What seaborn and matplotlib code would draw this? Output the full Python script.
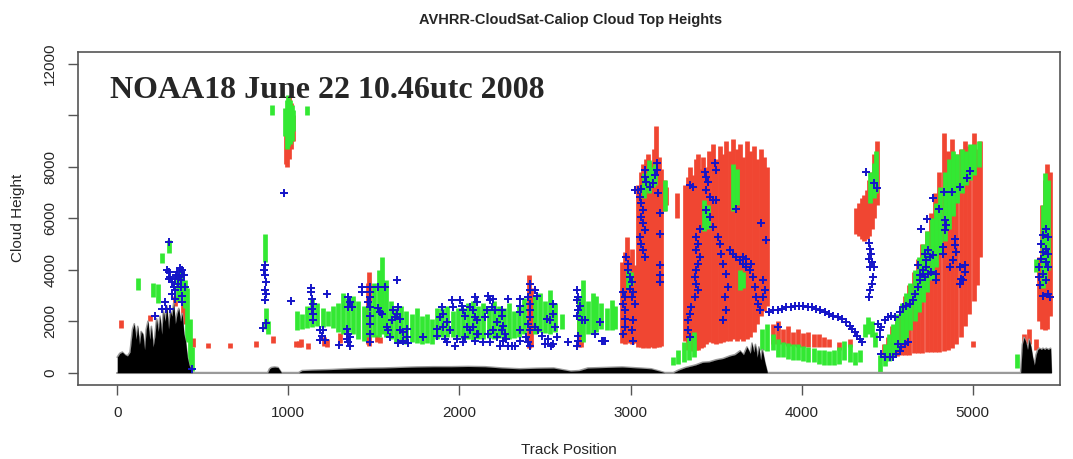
import numpy as np
import matplotlib
matplotlib.use("Agg")
import matplotlib.pyplot as plt
import seaborn as sns

# ---- data ----
# CloudSat layers (red): x, bottom, top
red_x = [20, 190, 340, 385, 395, 445, 530, 660, 810, 910,
         985, 995, 1005, 1015, 1025,
         1045, 1060, 1075, 1115, 1210, 1225, 1305, 1465, 1472, 1520, 1535,
         2405, 2420, 2700, 2712,
         2950, 2965, 2980, 2995, 3010, 3025,
         3045, 3060, 3075, 3090, 3105, 3120, 3135, 3150, 3165, 3180,
         3195, 3205, 3270,
         3320, 3335, 3350, 3365, 3380, 3395, 3410, 3425, 3440,
         3460, 3480, 3500, 3520, 3540, 3560, 3580, 3600, 3620, 3640, 3660,
         3680, 3700, 3720, 3740, 3760, 3780, 3800,
         3830, 3860, 3890, 3920, 3950, 3980, 4010, 4040, 4070, 4100, 4130,
         4160, 4220, 4280,
         4320, 4335, 4350, 4365, 4380, 4395, 4410, 4425, 4440,
         4480, 4505, 4530, 4555, 4580, 4605, 4630, 4655, 4680, 4705, 4730,
         4755, 4780, 4805, 4830, 4855, 4880, 4905, 4930, 4955, 4980, 5005,
         5025, 5045, 5000,
         5300, 5330, 5370, 5390, 5405, 5420, 5435, 5450]
red_lo = [1750, 2000, 2600, 2100, 1900, 980, 950, 950, 1000, 1170,
          8100, 8000, 8300, 8700, 9000,
          980, 1000, 980, 930, 1050, 1000, 1170, 1100, 1050, 1200, 1150,
          950, 1000, 1000, 980,
          1150, 1130, 1200, 1150, 1100, 1150,
          1000, 980, 950, 980, 950, 980, 950, 980, 1000, 1050,
          6300, 6500, 6000,
          1250, 900, 870, 860, 880, 900, 950, 1000, 1100,
          1200, 1150, 1100, 1150, 1200, 1250, 1250, 1300, 1250, 1300, 1250,
          1300, 1400, 1600, 1900, 2200, 2400, 2600,
          1100, 1100, 1100, 1050, 1050, 1000, 1000, 1000, 1000, 980, 1000,
          1000, 900, 1000,
          5400, 5300, 5200, 5100, 5200, 5300, 5600, 6000, 6500,
          700, 650, 650, 650, 700, 700, 700, 750, 750, 750, 800,
          800, 800, 800, 850, 900, 950, 1100, 1400, 1800, 2300, 2800,
          3400, 4500, 1000,
          900, 1100, 900, 2000, 1700, 1640, 1700, 2200]
red_hi = [2030, 2250, 3000, 2700, 2500, 1330, 1170, 1170, 1250, 1440,
          9400, 10200, 10700, 10500, 10000,
          1250, 1250, 1300, 1170, 1400, 1300, 1560, 3500, 3900, 1450, 1400,
          3800, 3300, 2800, 2300,
          4300, 4700, 5270, 4500, 4800, 4200,
          7300, 7800, 8100, 8300, 8500, 8200, 8700, 9600, 8400, 7900,
          7500, 7200, 7000,
          7300, 7600, 8000, 7700, 8300, 8500, 7900, 8400, 8000,
          8600, 8900, 8300, 8800, 8500, 9000, 8600, 9100, 8700, 8900, 8400,
          9000, 8600, 8800, 8300, 8700, 8400, 8000,
          1900, 2000, 1700, 1800, 1600, 1700, 1550, 1600, 1500, 1500, 1400,
          1300, 1200, 1300,
          6400, 6600, 6800, 6900, 7100, 7500, 7800, 8500, 9000,
          1100, 1400, 1800, 2200, 2600, 3000, 3400, 3900, 4400, 5000, 5500,
          6200, 7000, 7800, 9300, 8600, 9100, 8500, 8700, 9000, 8800, 9300,
          8700, 9000, 1250,
          1500, 1700, 1300, 4500, 6500, 7500, 8100, 7800]

# Caliop layers (green): x, bottom, top
green_x = [120, 210, 240, 260, 300, 355, 375, 395, 410, 425, 440,
           865, 870, 880, 905, 980, 990, 1000, 1010, 1020, 1030, 1110,
           1050, 1080, 1110, 1140, 1170, 1200, 1230, 1260, 1290, 1320, 1350,
           1380, 1410, 1440, 1470, 1500, 1530, 1550, 1570, 1600, 1630, 1660,
           1690, 1720, 1750, 1780, 1810, 1840, 1870, 1900, 1930, 1960, 1990,
           2020, 2050, 2080, 2110, 2140, 2170, 2200, 2230, 2260, 2290, 2320,
           2350, 2380, 2440, 2470, 2500, 2530, 2560, 2600, 2700, 2720, 2750,
           2780, 2800, 2830, 2860, 2890, 2910,
           2985, 3000, 3080, 3110, 3130, 3145, 3200, 3430, 3450, 3600, 3620,
           3640, 3660, 3250, 3280, 3310, 3340, 3370, 3770, 3800, 3830,
           3860, 3890, 3920, 3950, 3980, 4010, 4040, 4070, 4100, 4130, 4160,
           4190, 4220, 4250, 4280, 4310, 4340, 4370, 4390, 4410, 4430,
           4400, 4420, 4435,
           4460, 4485, 4510, 4535, 4560, 4585, 4610, 4635, 4660, 4685, 4710,
           4735, 4760, 4785, 4810, 4835, 4860, 4885, 4910, 4935, 4960, 4985,
           5010, 5035,
           5260, 5370, 5410, 5425, 5440]
green_lo = [3200, 2930, 2700, 4250, 4640, 2800, 3000, 2500, 1200, 200, 50,
            4300, 1700, 1500, 10000, 9200, 8700, 8800, 8900, 9000, 9400, 10000,
            1650, 1700, 1750, 1760, 1800, 1760, 1800, 1750, 1600, 1520, 1600,
            1500, 1300, 1250, 1400, 1370, 1400, 1500, 1400, 1300, 1200, 1150,
            1130, 1200, 1150, 1130, 1150, 1130, 1300, 1400, 1400, 1370, 1400,
            1300, 1300, 1250, 1300, 1300, 1350, 1300, 1350, 1400, 1300, 1350,
            1400, 1500, 1500, 1600, 1550, 1520, 1600, 1700, 1500, 1200, 1500,
            1520, 1600, 1700, 1650, 1640, 1700,
            3300, 3400, 6800, 7000, 7200, 7300, 6300, 5500, 5600, 6300, 6500,
            3200, 3300, 300, 350, 400, 500, 600, 900, 860, 900,
            600, 600, 550, 500, 500, 450, 400, 400, 350, 300, 300,
            300, 350, 500, 400, 300, 400, 1400, 1500, 1400, 1000,
            6600, 6800, 7000,
            0, 250, 450, 650, 850, 1100, 1300, 1650, 2000, 2350, 2750,
            3150, 3600, 4100, 4600, 5100, 5600, 6100, 6600, 7000, 7300, 7500,
            7700, 8000,
            200, 3900, 3300, 3500, 4000]
green_hi = [3700, 3470, 3450, 4640, 5150, 3800, 4000, 3600, 3300, 2100, 1000,
            5400, 2500, 2000, 10400, 10300, 10600, 10800, 10600, 10400, 10200, 10350,
            2400, 2300, 2600, 2900, 2700, 2500, 2400, 2600, 2700, 3080, 2900,
            3000, 2800, 2600, 2800, 3500, 4000, 4500, 3600, 2800, 2500, 2600,
            2400, 2300, 2500, 2200, 2300, 2100, 2500, 2500, 2600, 2400, 2500,
            2500, 2700, 2800, 2600, 2700, 2500, 2800, 2600, 2500, 2700, 2400,
            2600, 2900, 3000, 3100, 2800, 3200, 2700, 2300, 3000, 3590, 2800,
            3080, 3000, 2700, 2500, 2810, 2600,
            3980, 3900, 7760, 8270, 8000, 8100, 7500, 6700, 6500, 8100, 7900,
            3980, 3900, 600, 900, 1200, 1400, 1600, 1700, 1900, 1500,
            1300, 1200, 1150, 1100, 1100, 1050, 1000, 950, 900, 900, 850,
            900, 1000, 1250, 1100, 800, 900, 1900, 2150, 2000, 1600,
            7800, 8150, 8600,
            700, 1100, 1500, 1900, 2300, 2700, 3100, 3500, 4000, 4500, 5000,
            5500, 6000, 6600, 7200, 7800, 8300, 8600, 8500, 8700, 8600, 8900,
            8900, 9000,
            740, 4400, 6500, 7760, 7500]

# AVHRR cloud top (blue +)
blue_x = [300, 300, 310, 320, 330, 340, 350, 360, 370, 380, 390, 395, 290, 300,
          335, 365, 375, 355, 345, 320, 280, 260, 285, 310, 220, 340, 380, 380, 436,
          865, 860, 865, 870, 865, 870, 865, 870, 855, 1016, 975,
          1131, 1131, 1138, 1143, 1138, 1143, 1147, 1225, 1185, 1205, 1195, 1185,
          1215, 1298, 1351, 1361, 1371, 1351, 1341, 1351, 1361, 1351, 1361, 1341,
          1429, 1429, 1478, 1478, 1478, 1468, 1478, 1478, 1478, 1478, 1478,
          1526, 1565, 1526, 1536, 1546, 1575, 1585, 1594, 1637, 1614, 1633, 1643,
          1624, 1604, 1653, 1653, 1672, 1692, 1692, 1672, 1643, 1701, 1789,
          1896, 1906, 1886, 1925, 1906, 1945, 1867, 1867, 1916, 1925, 1974, 1984,
          1955, 1964, 2003, 2013, 2022, 2032, 2091, 2101, 2081, 2091, 2042, 2062,
          2032, 2022, 2101, 2091,
          2062, 2101, 2081, 2110, 2140, 2168, 2178, 2198, 2188, 2159, 2208, 2149,
          2217, 2198, 2168, 2217, 2178, 2237, 2256, 2285, 2246, 2246, 2256, 2246,
          2266, 2275, 2285, 2305, 2324, 2353, 2353, 2353, 2353, 2353,
          2412, 2412, 2402, 2412, 2412, 2412, 2402, 2412, 2392, 2402, 2412, 2441,
          2451, 2441, 2460, 2480, 2500, 2519, 2538, 2548, 2548, 2548, 2558, 2568,
          2529, 2509, 2636, 2685, 2694, 2685, 2704, 2694, 2685, 2714, 2733, 2694,
          2694, 2685, 2792, 2831, 2850,
          2821, 2840, 2957, 2967, 2957, 2967, 2967, 2967, 2957, 2976, 2986, 2986,
          2996, 3006, 2996, 3015, 3006, 3025, 3015, 3006, 3015, 3025, 3045, 3064,
          3084, 3084, 3093, 3113, 3132, 3142, 3152, 3152, 3054, 3064, 3074, 3064,
          3074, 3084, 3054, 3064, 3074, 3084, 3161, 3171, 3171, 3171, 3171, 3171,
          3346, 3366, 3434, 3443, 3453, 3443, 3463, 3482, 3502, 3492, 3502,
          3405, 3385, 3395, 3385, 3405, 3395, 3385, 3376, 3385, 3395, 3376, 3356,
          3346, 3337, 3337, 3346, 3443, 3463, 3482, 3512, 3522, 3531, 3541, 3560,
          3570, 3551, 3560, 3541, 3619, 3580, 3599, 3619, 3638, 3658, 3677, 3697,
          3658, 3677, 3706, 3716, 3726, 3735, 3745, 3774, 3784, 3774, 3755, 3765,
          3794, 3862,
          3810, 3835, 3860, 3885, 3910, 3935, 3960, 3985, 4010, 4035, 4060, 4085,
          4110, 4135, 4160, 4185, 4210, 4235, 4260, 4280, 4295, 4310, 4325, 4340,
          4350,
          4378, 4420, 4440, 4395, 4400, 4405, 4395, 4410, 4400, 4420, 4415, 4410,
          4400, 4395,
          4446, 4456, 4456, 4466, 4485, 4505, 4524, 4544, 4466, 4485, 4514, 4534,
          4553, 4573, 4582, 4563, 4602, 4621, 4573, 4592, 4612, 4631, 4650, 4660,
          4680, 4690, 4709, 4728, 4728, 4719, 4738, 4748, 4767, 4680, 4690, 4709,
          4719, 4738, 4757, 4787, 4787, 4700, 4730, 4770, 4800, 4830, 4880, 4925,
          4965, 4985, 4835, 4845, 4835, 4826, 4826, 4894, 4894, 4904, 4884, 4865,
          4923, 4952, 4952, 4933, 4923, 4942,
          5430, 5410, 5440, 5400, 5430, 5410, 5440, 5400, 5430, 5390, 5440, 5410,
          5390, 5430, 5395, 5440, 5410, 5450]
blue_y = [5080, 3910, 3720, 3520, 3330, 3200, 3910, 3720, 3590, 3980, 3780, 3330, 3980, 3650,
          3650, 4050, 3350, 3450, 3780, 3070, 2740, 2480, 2480, 2480, 2220, 2880, 3000, 2740, 140,
          4170, 3980, 3780, 3520, 3200, 3070, 2810, 1940, 1740, 2770, 7000,
          3300, 3130, 2870, 2680, 2480, 2290, 2050, 3070, 1660, 1660, 1440, 1270,
          1270, 1090, 2940, 2740, 2550, 2550, 1700, 1510, 1380, 1180, 1050, 1310,
          3330, 3130, 3350, 3130, 2940, 2740, 2550, 2220, 1900, 1510, 1180,
          3350, 3350, 2520, 2350, 2290, 1770, 1640, 1380, 3590, 2420, 2290, 2550,
          2160, 2030, 2090, 1640, 1570, 1700, 1380, 1250, 1140, 1140, 1380,
          2550, 2290, 2160, 1960, 1770, 1640, 1700, 1440, 1310, 1180, 1050, 1310,
          2810, 2570, 2810, 2610, 2420, 2220, 2940, 2740, 2420, 2160, 1770, 1640,
          1380, 1180, 1510, 1250,
          2550, 2030, 1770, 1510, 1180, 3000, 2810, 2870, 2550, 2420, 2420, 2160,
          1960, 1640, 1510, 1380, 1180, 1050, 1250, 2870, 2420, 2220, 1830, 1640,
          1510, 1310, 1050, 1050, 1050, 2870, 2610, 2350, 1640, 1250,
          3460, 3200, 2940, 2680, 2420, 2160, 1900, 1640, 1380, 1180, 1050, 3200,
          3000, 1770, 1640, 1440, 1120, 1310, 1050, 1120, 2680, 2290, 1770, 1380,
          2030, 2090, 1180, 3200, 2940, 2810, 2610, 2420, 2220, 2030, 2030, 1440,
          1250, 1050, 1510, 1250, 1250,
          1960, 1250, 3130, 2940, 2680, 2420, 2090, 1770, 1510, 4500, 4240, 3980,
          3720, 3520, 3260, 3130, 2940, 2680, 2030, 1640, 1250, 7100, 7100, 7160,
          7880, 7620, 7420, 7230, 7360, 7680, 7880, 8140, 6840, 6580, 6320, 6060,
          5800, 5540, 5280, 5020, 4760, 4500, 6970, 6190, 5410, 4170, 3780, 3520,
          7290, 7230, 7810, 7620, 7420, 7100, 6840, 6710, 6710, 8140, 7880,
          5600, 5280, 5020, 4760, 4500, 4240, 3980, 3720, 3460, 3200, 2940, 2550,
          2290, 2030, 1640, 1380, 6320, 6060, 5670, 5280, 5020, 4630, 4240, 3850,
          3330, 2940, 2420, 2030, 6380, 4760, 4630, 4500, 4370, 4240, 4110, 3980,
          4500, 4430, 4240, 3720, 3330, 2940, 2680, 2940, 3200, 3590, 2420, 5800,
          5150, 1770,
          2350, 2420, 2420, 2480, 2550, 2550, 2610, 2610, 2610, 2550, 2550, 2480,
          2420, 2350, 2290, 2220, 2160, 2090, 1960, 1830, 1700, 1570, 1440, 1300,
          1180,
          7790, 7370, 7170, 5030, 4820, 4630, 4430, 4300, 4110, 4110, 3720, 3460,
          3200, 2940,
          1900, 1640, 1380, 1770, 2030, 2160, 2220, 2160, 730, 600, 600, 600,
          730, 860, 990, 1120, 1120, 1180, 2350, 2550, 2610, 2680, 2810, 3070,
          3330, 3590, 3850, 4110, 4370, 4630, 4760, 4500, 4560, 4170, 3780, 3980,
          3720, 3850, 3910, 3850, 3590, 5600, 5990, 6810, 6380, 7030, 7030, 7230,
          7570, 7830, 5930, 5730, 5540, 4890, 4630, 5210, 4950, 4690, 4370, 4110,
          4110, 4170, 3910, 3650, 3460, 3590,
          5600, 5340, 5280, 5020, 4820, 4690, 4630, 4430, 4300, 4110, 4110, 3850,
          3720, 3590, 3390, 3070, 3000, 2940]

# surface elevation (black)
terrain_x = [0, 15, 30, 45, 60, 75, 90, 100, 110, 120, 130, 140, 150, 160, 170,
             180, 190, 200, 210, 220, 230, 240, 250, 260, 270, 280, 290, 300, 310,
             320, 330, 340, 350, 360, 370, 380, 390, 400, 410, 420, 430, 440,
             880, 890, 900, 920, 940, 960, 1060, 1080, 1150, 1250, 1350, 1450, 1550,
             1650, 1750, 1850, 1950, 2050, 2150, 2250, 2350, 2450, 2550, 2650, 2700,
             2750, 2850, 2950, 3050, 3120, 3170, 3200, 3250, 3280, 3320, 3380, 3420,
             3460, 3500, 3540, 3580, 3610, 3640, 3660, 3680, 3700, 3710, 3720, 3730,
             3740, 3750, 3760, 3770, 3785, 3800,
             5280, 5290, 5300, 5310, 5320, 5330, 5340, 5350, 5360, 5370, 5380, 5390,
             5400, 5410, 5420, 5430, 5440, 5455, 5460]
terrain_h = [600, 750, 800, 700, 650, 800, 1700, 1900, 1300, 1800, 1100, 1600, 1500, 900, 1700,
             2000, 1300, 1800, 1000, 1400, 2100, 1600, 2200, 1500, 2400, 2000, 2600, 1700, 2400,
             2200, 2700, 1900, 2300, 2500, 2000, 2300, 1500, 1200, 600, 300, 150, 0,
             0, 150, 200, 220, 200, 0, 0, 80, 100, 120, 150, 170, 180,
             200, 220, 230, 230, 240, 230, 180, 150, 170, 180, 60, 80,
             180, 200, 220, 180, 150, 60, 0, 0, 100, 200, 300, 400,
             420, 500, 550, 650, 700, 850, 700, 1000, 750, 1150, 800, 1100,
             600, 1000, 500, 900, 400, 0,
             0, 1100, 1370, 1200, 900, 1300, 1000, 600, 300, 700, 900, 950,
             900, 950, 900, 950, 900, 950, 0]

x_ticks = [0, 1000, 2000, 3000, 4000, 5000]
y_ticks = [0, 2000, 4000, 6000, 8000, 10000, 12000]
y_tick_labels = ['0', '2000', '4000', '6000', '8000', '', '12000']

# ---- drawing ----
sns.set_style("ticks")
plt.rcParams['font.family'] = ['Liberation Sans Narrow', 'Liberation Sans', 'DejaVu Sans']

fig = plt.figure(figsize=(10.73, 4.59), dpi=100)
ax = fig.add_axes([0.0727, 0.1612, 0.9152, 0.7262])

ax.vlines(red_x, red_lo, red_hi, colors='#f04632', linewidth=3.4, zorder=2)
ax.vlines(green_x, green_lo, green_hi, colors='#33e833', linewidth=3.4, zorder=3)

ax.plot(terrain_x, terrain_h, color='#9a9a9a', lw=1.2, zorder=4)
ax.plot([terrain_x[0], terrain_x[-1]], [0, 0], color='#9a9a9a', lw=1.5, zorder=4)
ax.fill_between(terrain_x, 0, terrain_h, color='black', lw=0, zorder=5)

sns.scatterplot(x=blue_x, y=blue_y, marker='+', color='#1414c8', s=38,
                linewidth=1.4, ax=ax, zorder=6)

ax.set_xlim(-229, 5510)
ax.set_ylim(-480, 12480)
ax.set_xticks(x_ticks)
ax.set_xticklabels([str(t) for t in x_ticks], fontsize=11)
ax.set_yticks(y_ticks)
ax.set_yticklabels(y_tick_labels, rotation=90, va='center', fontsize=11)
ax.tick_params(axis='both', length=7, width=1, color='#555555', pad=8)
for s in ax.spines.values():
    s.set_color('#555555')
    s.set_linewidth(1.2)

ax.text(0.033, 0.885, 'NOAA18 June 22 10.46utc 2008', transform=ax.transAxes,
        family=['Liberation Serif', 'DejaVu Serif'], fontweight='bold',
        fontsize=23, va='center', ha='left', zorder=7)

fig.text(0.532, 0.956, 'AVHRR-CloudSat-Caliop Cloud Top Heights',
         ha='center', va='center', fontsize=10.5, fontweight='bold')
fig.text(0.530, 0.02, 'Track Position', ha='center', va='center', fontsize=11)
fig.text(0.017, 0.525, 'Cloud Height', ha='center', va='center', rotation=90, fontsize=11)

fig.savefig('out.png', dpi=100)
